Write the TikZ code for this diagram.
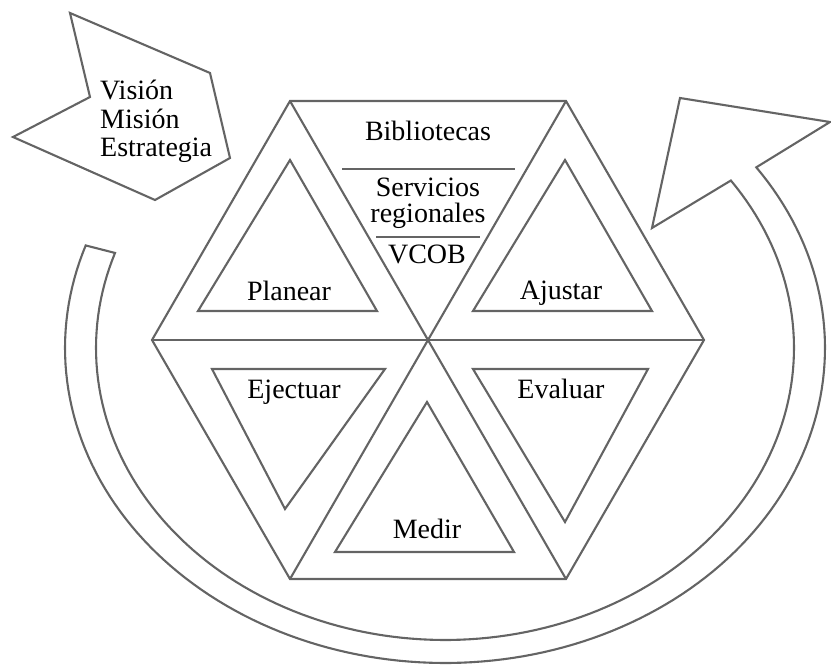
\documentclass[tikz,border=0pt]{standalone}
\usepackage{fontspec}
\setmainfont{Liberation Serif}
\definecolor{linec}{RGB}{100,100,100}
\begin{document}
\begin{tikzpicture}[x=1pt,y=-1pt,
  ln/.style={draw=linec, line width=2.1pt, line join=miter},
  lbl/.style={font=\fontsize{28}{28}\selectfont, anchor=base, inner sep=0pt, text=black}]
\useasboundingbox (0,0) rectangle (831,666);

% hexagon vertices
\coordinate (C)  at (428,340);
\coordinate (H0) at (704,340);
\coordinate (H1) at (566,101);
\coordinate (H2) at (290,101);
\coordinate (H3) at (152,340);
\coordinate (H4) at (290,579);
\coordinate (H5) at (566,579);

% curved arrow band
\draw[ln] plot[domain=199:-35, samples=150] ({445+380*cos(\x)},{348+315*sin(\x)})
  -- (830,122) coordinate (AW1) -- (680,98) coordinate (AT) -- (652,228) coordinate (AW2)
  -- plot[domain=-35:199, samples=150] ({445+349*cos(\x)},{348+292*sin(\x)}) -- cycle;

% left chevron
\draw[ln] (70,13) coordinate (V1) -- (210,73) coordinate (V2) -- (230,158) coordinate (V3)
  -- (155,200) coordinate (V4) -- (13,137) coordinate (V5) -- (90,97) coordinate (V6) -- cycle;

% hexagon and diagonals
\draw[ln] (H0) -- (H1) -- (H2) -- (H3) -- (H4) -- (H5) -- cycle;
\draw[ln] (H0) -- (H3);
\draw[ln] (H1) -- (H4);
\draw[ln] (H2) -- (H5);

% inner triangles
\draw[ln] (290,160) coordinate (P1) -- (198,311) coordinate (P2) -- (377,311) coordinate (P3) -- cycle;
\draw[ln] (565,160) coordinate (A1) -- (473,311) coordinate (A2) -- (652,311) coordinate (A3) -- cycle;
\draw[ln] (212,369) coordinate (E1) -- (385,369) coordinate (E2) -- (285,509) coordinate (E3) -- cycle;
\draw[ln] (473,369) coordinate (L1) -- (648,369) coordinate (L2) -- (565,522) coordinate (L3) -- cycle;
\draw[ln] (427,402) coordinate (M1) -- (335,552) coordinate (M2) -- (514,552) coordinate (M3) -- cycle;

% separators in top triangle
\draw[ln] (342,169) coordinate (S1a) -- (515,169) coordinate (S1b);
\draw[ln] (376,237) coordinate (S2a) -- (480,237) coordinate (S2b);

% texts
\node[lbl] (bib) at (428,141) {Bibliotecas};
\node[lbl, align=center, font=\fontsize{28}{27}\selectfont] (serv) at (428,223) {Servicios\\regionales};
\node[lbl] (vcob) at (427,264) {VCOB};
\node[lbl] (plan) at (289,300) {Planear};
\node[lbl] (ajus) at (561,299) {Ajustar};
\node[lbl] (ejec) at (294,398) {Ejectuar};
\node[lbl] (eval) at (561,398) {Evaluar};
\node[lbl] (med) at (427,538) {Medir};
\node[lbl, anchor=base west, align=left, font=\fontsize{28}{28.5}\selectfont] (vme) at (100,157) {Visión\\Misión\\Estrategia};
\end{tikzpicture}
\end{document}
